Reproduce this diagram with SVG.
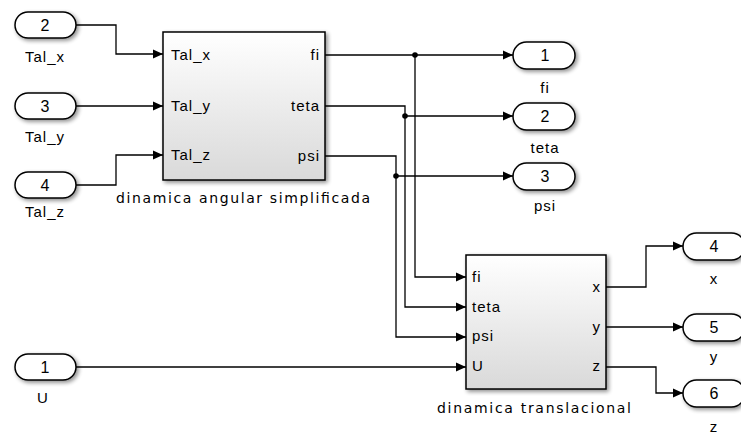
<svg xmlns="http://www.w3.org/2000/svg" width="741" height="435" viewBox="0 0 741 435">
<defs>
<linearGradient id="bg" x1="0" y1="0" x2="0" y2="1">
<stop offset="0" stop-color="#ffffff"/>
<stop offset="1" stop-color="#d9d9d9"/>
</linearGradient>
<filter id="sh" x="-20%" y="-20%" width="140%" height="150%">
<feGaussianBlur in="SourceAlpha" stdDeviation="2"/>
<feOffset dx="2" dy="2" result="b"/>
<feComponentTransfer><feFuncA type="linear" slope="0.45"/></feComponentTransfer>
<feMerge><feMergeNode/><feMergeNode in="SourceGraphic"/></feMerge>
</filter>
<marker id="ar" markerWidth="10" markerHeight="10" refX="10" refY="5" orient="auto" markerUnits="userSpaceOnUse">
<path d="M0,0.5 L10,5 L0,9.5 Z" fill="#000"/>
</marker>
</defs>
<style>
text{font-family:"Liberation Sans",Arial,sans-serif;fill:#000}
.pill{fill:#fff;stroke:#000;stroke-width:1.5;filter:url(#sh)}
.blk{fill:url(#bg);stroke:#000;stroke-width:1.5;filter:url(#sh)}
.num{font-size:16px;text-anchor:middle}
.lbl{font-size:15px;text-anchor:middle;letter-spacing:1px}
.cap{font-family:"DejaVu Sans",Verdana,sans-serif;font-size:14px;text-anchor:middle}
.pl{font-size:15px;letter-spacing:1px}
.pr{font-size:15px;text-anchor:end;letter-spacing:1px}
.w{fill:none;stroke:#000;stroke-width:1.3}
.wa{fill:none;stroke:#000;stroke-width:1.3;marker-end:url(#ar)}
</style>
<rect width="741" height="435" fill="#fff"/>
<g id="connectors">
<path class="wa" d="M76,25 H116 V54 H163"/>
<path class="wa" d="M76,106 H163"/>
<path class="wa" d="M76,185 H116 V155 H163"/>
<path class="wa" d="M325,55 H513"/>
<path class="wa" d="M415,55 V277 H466"/>
<path class="wa" d="M325,106 H405 V307 H466"/>
<path class="wa" d="M405,116 H513"/>
<path class="wa" d="M325,156 H396 V337 H466"/>
<path class="wa" d="M396,176 H513"/>
<path class="wa" d="M76,367 H466"/>
<path class="wa" d="M606,287 H646 V246 H683"/>
<path class="wa" d="M606,327 H683"/>
<path class="wa" d="M606,367 H656 V393 H683"/>
<circle cx="415" cy="55" r="2.8" fill="#000"/>
<circle cx="405" cy="116" r="2.8" fill="#000"/>
<circle cx="396" cy="176" r="2.8" fill="#000"/>
</g>
<g id="in2"><rect class="pill" x="15" y="12" width="61" height="26" rx="13"/><text class="num" x="45" y="31">2</text><text class="lbl" x="45" y="62">Tal_x</text></g>
<g id="in3"><rect class="pill" x="15" y="93" width="61" height="26" rx="13"/><text class="num" x="45" y="112">3</text><text class="lbl" x="45" y="142">Tal_y</text></g>
<g id="in4"><rect class="pill" x="15" y="172" width="61" height="26" rx="13"/><text class="num" x="45" y="191">4</text><text class="lbl" x="45" y="217">Tal_z</text></g>
<g id="in1"><rect class="pill" x="15" y="354" width="61" height="26" rx="13"/><text class="num" x="45" y="373">1</text><text class="lbl" x="43" y="403">U</text></g>
<g id="dinamica_angular">
<rect class="blk" x="163" y="32" width="162" height="148"/>
<text class="pl" x="171" y="60">Tal_x</text>
<text class="pl" x="171" y="111">Tal_y</text>
<text class="pl" x="171" y="160">Tal_z</text>
<text class="pr" x="320" y="60">fi</text>
<text class="pr" x="320" y="111">teta</text>
<text class="pr" x="320" y="161">psi</text>
<text class="cap" x="243" y="203" textLength="254" lengthAdjust="spacing">dinamica angular simplificada</text>
</g>
<g id="dinamica_translacional">
<rect class="blk" x="466" y="255" width="140" height="134"/>
<text class="pl" x="472" y="282">fi</text>
<text class="pl" x="472" y="312">teta</text>
<text class="pl" x="472" y="341">psi</text>
<text class="pl" x="472" y="371">U</text>
<text class="pr" x="601" y="292">x</text>
<text class="pr" x="601" y="332">y</text>
<text class="pr" x="601" y="371">z</text>
<text class="cap" x="534" y="413" textLength="194" lengthAdjust="spacing">dinamica translacional</text>
</g>
<g id="out1"><rect class="pill" x="513" y="42" width="62" height="27" rx="13.5"/><text class="num" x="545" y="61">1</text><text class="lbl" x="545" y="93">fi</text></g>
<g id="out2"><rect class="pill" x="513" y="103" width="62" height="27" rx="13.5"/><text class="num" x="545" y="122">2</text><text class="lbl" x="545" y="153">teta</text></g>
<g id="out3"><rect class="pill" x="513" y="163" width="62" height="27" rx="13.5"/><text class="num" x="545" y="182">3</text><text class="lbl" x="545" y="211">psi</text></g>
<g id="out4"><rect class="pill" x="683" y="233" width="62" height="27" rx="13.5"/><text class="num" x="714" y="252">4</text><text class="lbl" x="714" y="284">x</text></g>
<g id="out5"><rect class="pill" x="683" y="314" width="62" height="27" rx="13.5"/><text class="num" x="714" y="333">5</text><text class="lbl" x="714" y="362">y</text></g>
<g id="out6"><rect class="pill" x="683" y="380" width="62" height="27" rx="13.5"/><text class="num" x="714" y="399">6</text><text class="lbl" x="714" y="432">z</text></g>
</svg>
